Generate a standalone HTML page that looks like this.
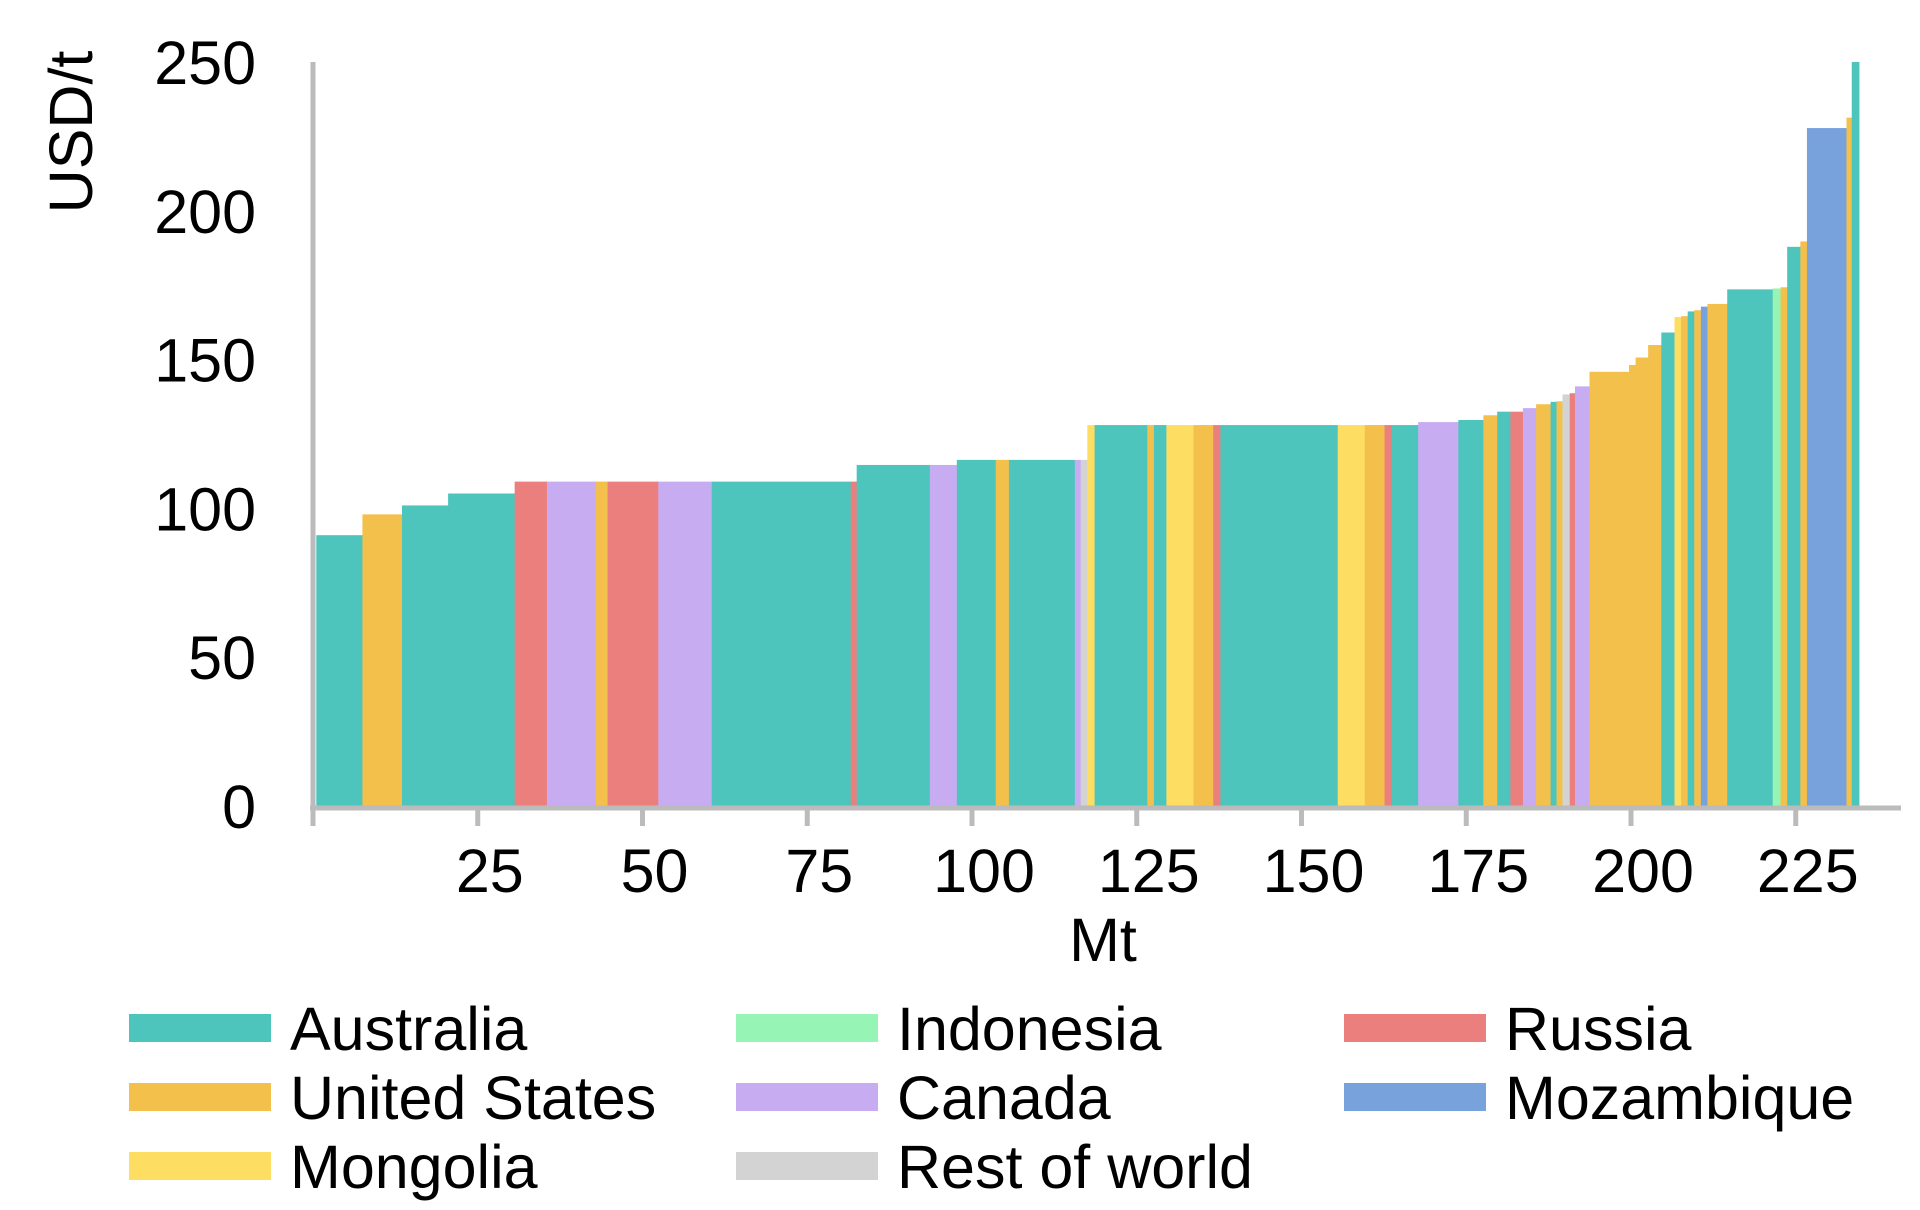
<!DOCTYPE html>
<html><head><meta charset="utf-8"><style>
html,body{margin:0;padding:0;background:#fff;}
svg{display:block;font-family:"Liberation Sans",Arial,sans-serif;}
</style></head><body>
<svg id="chart" width="1920" height="1210" viewBox="0 0 1920 1210" xmlns="http://www.w3.org/2000/svg">
<g id="bars"></g>
<g id="axes"></g>
<g id="legend"></g>
</svg>
<script>
// cumulative Mt at end of each segment (first starts at 0.5)
const segEnds = [7.5,13.5,20.5,30.6,35.5,42.9,44.7,52.4,60.5,81.6,82.5,93.6,97.7,103.6,105.6,115.6,116.5,117.5,118.6,126.6,127.6,129.5,133.6,136.6,137.7,155.5,159.6,162.6,163.7,167.7,173.8,177.6,179.7,181.7,183.6,185.6,187.8,188.7,189.6,190.7,191.5,193.7,199.7,200.7,202.6,204.6,206.6,207.6,208.6,209.6,210.6,211.6,214.6,221.5,222.7,223.7,225.7,226.7,232.7,233.5,234.6];
const costs = [91,98,101,105,109,109,109,109,109,109,109,114.6,114.6,116.3,116.3,116.3,116.3,116.3,128,128,128,128,128,128,128,128,128,128,128,128,129,129.7,131.3,132.5,132.5,133.7,135,135.8,136,138.3,138.7,141,145.9,148.2,150.7,154.9,159.1,164.3,164.6,166.2,166.6,167.8,168.7,173.6,173.9,174.3,187.9,189.7,227.8,231.3,250];
const countries = ["AU","US","AU","AU","RU","CA","US","RU","CA","AU","RU","AU","CA","AU","US","AU","CA","RW","MN","AU","US","AU","MN","US","RU","AU","MN","US","RU","AU","CA","AU","US","AU","RU","CA","US","AU","US","RW","RU","CA","US","US","US","US","AU","MN","US","AU","US","MZ","US","AU","ID","US","AU","US","MZ","US","AU"];
const startMt = 0.5;
const yTicks = [0,50,100,150,200,250];
const xTicks = [0,25,50,75,100,125,150,175,200,225];
const legendNames = ["Australia","Indonesia","Russia","United States","Canada","Mozambique","Mongolia","Rest of world"];
const legendKeys = ["AU","ID","RU","US","CA","MZ","MN","RW"];

const colors = {AU:"#4DC4BC",US:"#F4C04C",RU:"#EB7F7E",CA:"#C8ACF2",MN:"#FDDE63",RW:"#D3D3D3",MZ:"#78A2DC",ID:"#96F4B4"};
const NS="http://www.w3.org/2000/svg";
const X0=313, PXMT=6.59, Y0=806, PXU=(806-62)/250;
const xs=m=>X0+m*PXMT, ys=v=>Y0-v*PXU;
function mk(tag,attrs,parent){const e=document.createElementNS(NS,tag);for(const k in attrs)e.setAttribute(k,attrs[k]);parent.appendChild(e);return e;}
const bars=document.getElementById('bars'),axes=document.getElementById('axes'),legend=document.getElementById('legend');
let prev=startMt;
segEnds.forEach((end,i)=>{
  const r=mk('rect',{x:xs(prev),y:ys(costs[i]),width:Math.max(0.5,xs(end)-xs(prev)+0.4),height:Y0-ys(costs[i]),fill:colors[countries[i]]},bars);
  
  
  prev=end;
});
let l=mk('line',{x1:X0,y1:62,x2:X0,y2:Y0+2,stroke:'#BBBBBB','stroke-width':5},axes);


l=mk('line',{x1:X0-3,y1:Y0+2,x2:1901,y2:Y0+2,stroke:'#BBBBBB','stroke-width':5},axes);


yTicks.forEach(v=>{
  const t=mk('text',{x:256,y:ys(v)+22,'text-anchor':'end','font-size':61,fill:'#000'},axes);
  t.textContent=v;
  
  
});
xTicks.forEach(v=>{
  const tk=mk('line',{x1:xs(v),y1:Y0,x2:xs(v),y2:Y0+20,stroke:'#BBBBBB','stroke-width':5},axes);
  
  
  if(v>0){
    const t=mk('text',{x:xs(v)+12,y:892,'text-anchor':'middle','font-size':61,fill:'#000'},axes);
    t.textContent=v;
    
    
  }
});
let t=mk('text',{x:1103,y:961,'text-anchor':'middle','font-size':61,fill:'#000'},axes);
t.textContent='Mt';


t=mk('text',{x:0,y:0,'text-anchor':'middle','font-size':61,fill:'#000',transform:'translate(92,132) rotate(-90)'},axes);
t.textContent='USD/t';


const colX=[129,736,1344], rowY=[1028,1097,1166];
legendNames.forEach((n,i)=>{
  const c=i%3, r=Math.floor(i/3);
  const g=mk('g',{},legend);
  
  
  mk('rect',{x:colX[c],y:rowY[r]-14,width:142,height:28,fill:colors[legendKeys[i]]},g);
  const tx=mk('text',{x:colX[c]+161,y:rowY[r]+22,'font-size':61,fill:'#000'},g);
  tx.textContent=n;
});
</script>
</body></html>
